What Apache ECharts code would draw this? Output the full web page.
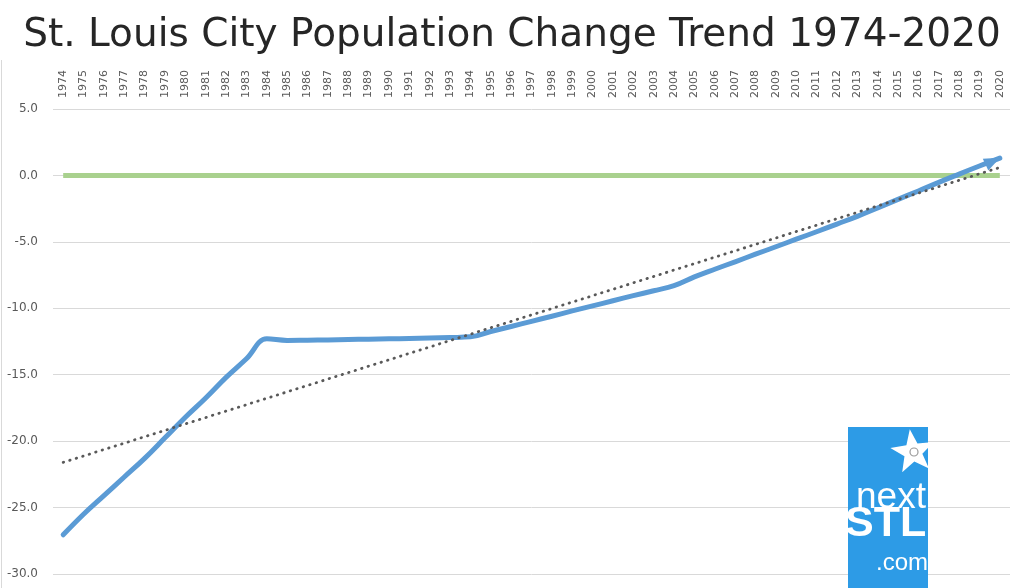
<!DOCTYPE html>
<html>
<head>
    <meta charset="utf-8">
    <title>St. Louis City Population Change Trend</title>
    <script src="https://cdn.jsdelivr.net/npm/echarts/dist/echarts.min.js"></script>
    <style>
        html, body { margin: 0; padding: 0; background: #fff; }
    </style>
</head>
<body>
    <div id="main" style="width: 1024px;height:588px;"></div>
    <script>
        // years along the top axis
        var years = [];
        for (var y = 1974; y <= 2020; y++) years.push(String(y));

        // population change (%)
        var change = [
            -27.05, -25.5, -24.1, -22.7, -21.3, -19.75, -18.2, -16.75, -15.2, -13.8,
            -12.3, -12.42, -12.4, -12.38, -12.35, -12.33, -12.3, -12.27, -12.24, -12.2,
            -12.15, -11.75, -11.37, -10.98, -10.6, -10.2, -9.82, -9.43, -9.05, -8.68,
            -8.3, -7.64, -7.06, -6.5, -5.93, -5.37, -4.8, -4.24, -3.66, -3.08,
            -2.45, -1.8, -1.17, -0.52, 0.1, 0.71, 1.3
        ];

        // zero reference line
        var zeroLine = years.map(function () { return 0; });

        // trend line end points
        var trendYears = ['1974', '2020'];
        var trendValues = [-21.6, 0.6];

        var yTicks = { min: -30, max: 5, step: 5 };

        var font = 'DejaVu Sans';

        var changeData = change.map(function (v, i) {
            if (i === change.length - 1) {
                return {
                    value: v,
                    symbol: 'triangle',
                    symbolSize: [13, 16],
                    symbolRotate: -65,
                    symbolOffset: [-7, 3],
                    itemStyle: { color: '#5B9BD5' }
                };
            }
            return v;
        });

        // star for the logo
        function starPoints(cx, cy, R, r, rot) {
            var pts = [];
            for (var i = 0; i < 10; i++) {
                var a = (rot - 90 + i * 36) * Math.PI / 180;
                var rad = i % 2 === 0 ? R : r;
                pts.push([cx + rad * Math.cos(a), cy + rad * Math.sin(a)]);
            }
            return pts;
        }

        var chartDom = document.getElementById('main');
        var myChart = echarts.init(chartDom);
        var option = {
            animation: false,
            title: {
                text: 'St. Louis City Population Change Trend 1974-2020',
                left: 'center',
                top: 11,
                textStyle: {
                    fontFamily: font,
                    fontSize: 39,
                    fontWeight: 'normal',
                    color: '#262626'
                }
            },
            grid: {
                left: 53,
                right: 14,
                top: 109,
                bottom: 14,
                containLabel: false,
                outerBoundsMode: 'none'
            },
            xAxis: {
                type: 'category',
                position: 'top',
                data: years,
                boundaryGap: true,
                axisLine: { show: false },
                axisTick: { show: false },
                axisLabel: {
                    rotate: 90,
                    interval: 0,
                    margin: 11,
                    fontFamily: font,
                    fontSize: 11,
                    color: '#595959'
                },
                splitLine: { show: false }
            },
            yAxis: {
                type: 'value',
                min: yTicks.min,
                max: yTicks.max,
                interval: yTicks.step,
                axisLine: { show: false },
                axisTick: { show: false },
                axisLabel: {
                    margin: 15,
                    fontFamily: font,
                    fontSize: 12,
                    color: '#595959',
                    formatter: function (v) { return v.toFixed(1); }
                },
                splitLine: { lineStyle: { color: '#D9D9D9', width: 1 } }
            },
            series: [
                {
                    name: 'zero',
                    type: 'line',
                    data: zeroLine,
                    symbol: 'none',
                    lineStyle: { color: '#A9D18E', width: 5 },
                    z: 2
                },
                {
                    name: 'change',
                    type: 'line',
                    data: changeData,
                    smooth: 0.4,
                    showSymbol: true,
                    symbol: 'none',
                    lineStyle: { color: '#5B9BD5', width: 5, cap: 'round', join: 'round' },
                    z: 3
                },
                {
                    name: 'trend',
                    type: 'line',
                    data: trendYears.map(function (yr, i) { return [yr, trendValues[i]]; }),
                    symbol: 'none',
                    lineStyle: { color: '#595959', width: 2.8, type: [0.5, 6.3], cap: 'round' },
                    z: 4
                }
            ],
            graphic: [
                {
                    type: 'line',
                    shape: { x1: 1.5, y1: 60, x2: 1.5, y2: 588 },
                    style: { stroke: '#D9D9D9', lineWidth: 1 }
                },
                {
                    type: 'rect',
                    z: 20,
                    shape: { x: 848, y: 427, width: 80, height: 161 },
                    style: { fill: '#2D9BE6' }
                },
                {
                    type: 'polygon',
                    z: 21,
                    shape: { points: starPoints(913, 452, 23, 9.5, -8) },
                    style: { fill: '#ffffff' }
                },
                {
                    type: 'circle',
                    z: 22,
                    shape: { cx: 914, cy: 452, r: 4 },
                    style: { fill: 'none', stroke: '#9a9a9a', lineWidth: 1.2 }
                },
                {
                    type: 'text',
                    z: 21,
                    style: {
                        x: 856, y: 479, text: 'next',
                        fill: '#ffffff', font: '37px "Liberation Sans"'
                    }
                },
                {
                    type: 'text',
                    z: 21,
                    style: {
                        x: 845, y: 503, text: 'STL',
                        fill: '#ffffff', font: 'bold 43px "Liberation Sans"'
                    }
                },
                {
                    type: 'text',
                    z: 21,
                    style: {
                        x: 876, y: 551, text: '.com',
                        fill: '#ffffff', font: '24px "Liberation Sans"'
                    }
                }
            ]
        };

        option && myChart.setOption(option);
    </script>
</body>
</html>
